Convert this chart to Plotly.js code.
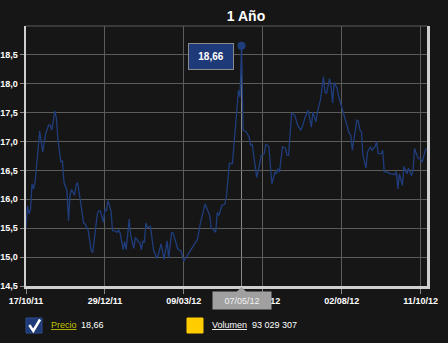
<!DOCTYPE html>
<html>
<head>
<meta charset="utf-8">
<script src="https://cdn.plot.ly/plotly-3.0.1.min.js"></script>
<style>
html,body{margin:0;padding:0;background:#161616;}
#chart{width:448px;height:343px;}
</style>
</head>
<body>
<div id="chart"></div>
<script>
// Trading-session index (x) and closing price (y)
const sesion = [0,1,2,3,4,5,6,7,9,11,13,15,16,17,19,20,21,23,24,25,27,28,29,30,32,33,34,35,38,39,41,43,
44,47,48,49,51,52,53,54,56,57,58,60,61,62,64,65,66,68,69,71,72,74,75,76,77,78,79,80,82,84,86,87,89,91,93,94,96,97,100,102,104,
113,115,118,121,122,125,126,127,129,130,131,132,134,136,139,140,141,142,143,145,147,148,149,150,152,154,155,157,158,160,161,162,164,165,166,167,169,171,172,173,
175,177,179,181,182,184,186,188,189,191,192,194,196,197,198,200,201,202,203,205,206,208,210,211,213,214,215,216,218,219,220,221,222,224,225,227,228,230,231,232,234,235,236,238,240,
243,244,245,246,248,249,251,252,254,255,256,258,259,260,261,263,264];
const precio = [15.51,15.89,15.75,15.83,16.27,16.18,16.30,16.64,17.18,16.82,17.14,17.29,17.28,17.20,17.53,17.41,17.05,16.64,16.67,16.30,16.15,15.63,16.07,16.17,16.07,16.25,16.29,16.12,15.59,15.57,15.46,15.11,
15.08,15.75,15.80,15.80,15.60,15.83,15.80,15.98,15.80,15.46,15.46,15.43,15.47,15.42,15.13,15.27,15.13,15.66,15.37,15.15,15.34,15.27,15.25,15.13,15.28,15.25,15.59,15.51,15.53,15.13,14.99,15.02,15.23,14.96,15.28,14.99,15.43,15.41,15.14,15.11,14.93,
15.31,15.60,15.92,15.72,15.51,15.43,15.77,15.72,15.89,15.91,15.92,16.04,16.62,16.62,17.60,17.89,17.77,18.66,17.20,17.17,17.08,16.93,16.96,16.76,16.38,16.62,16.76,16.79,16.96,16.91,16.50,16.27,16.47,16.44,16.53,16.47,16.91,16.88,16.76,16.76,
17.49,17.46,17.28,17.20,17.25,17.43,17.54,17.25,17.51,17.34,17.51,17.72,18.12,17.86,17.83,18.09,17.95,17.67,18.02,17.92,17.78,17.60,17.40,17.34,17.14,17.11,16.85,17.02,17.37,17.35,17.20,17.17,16.76,16.54,16.82,16.91,16.85,16.91,17.00,16.79,16.79,16.85,16.48,16.47,16.44,
16.43,16.48,16.18,16.44,16.24,16.57,16.44,16.54,16.41,16.50,16.88,16.73,16.70,16.70,16.64,16.85,16.88];
const tickSesion = [0,52,104,156,208,260];
const tickFechas = ["17/10/11","29/12/11","09/03/12","25/05/12","02/08/12","11/10/12"];
const yTicks = [14.5,15.0,15.5,16.0,16.5,17.0,17.5,18.0,18.5];
const fechaSeleccionada = "07/05/12";
const volumenTexto = "93 029 307";
const titulo = "1 Año";

const iMax = precio.indexOf(Math.max(...precio));
const xSel = sesion[iMax], ySel = precio[iMax];
const fmt = v => v.toFixed(2).replace('.', ',');

const lineColor = '#1f3d7c';
const F = 'Arial, "Liberation Sans", sans-serif';

const traces = [
  {x: sesion, y: precio, type: 'scatter', mode: 'lines', line: {color: lineColor, width: 1.3}, hoverinfo: 'skip'},
  {x: [xSel], y: [ySel], type: 'scatter', mode: 'markers', marker: {color: lineColor, size: 8}, hoverinfo: 'skip'}
];

// paper helpers for legend area
const L = 26, R = 427, T = 26, B = 286;
const px = p => (p - L) / (R - L);
const py = p => (B - p) / (B - T);

const layout = {
  width: 448, height: 343,
  margin: {l: 26, r: 21, t: 26, b: 57},
  paper_bgcolor: '#161616', plot_bgcolor: '#161616',
  separators: ', ',
  showlegend: false,
  font: {family: F, color: '#ffffff', size: 9},
  title: {text: titulo, font: {family: F, size: 14, color: '#ffffff', weight: 'bold'},
          x: 246/448, xanchor: 'center', xref: 'container', y: 1 - 16/343, yanchor: 'middle', yref: 'container'},
  xaxis: {
    range: [0, 264.2], tickmode: 'array', tickvals: tickSesion, ticktext: tickFechas,
    showgrid: true, gridcolor: '#5c5c5c', gridwidth: 1, zeroline: false,
    showline: true, linecolor: '#cfcfcf', linewidth: 2.5,
    ticks: 'outside', ticklen: 5, tickcolor: '#8a8a8a', tickwidth: 1,
    tickfont: {family: F, size: 9, color: '#ffffff', weight: 'bold'}, fixedrange: true
  },
  yaxis: {
    range: [14.5, 19.0], tickmode: 'array', tickvals: yTicks, tickformat: '.1f',
    showgrid: true, gridcolor: '#5c5c5c', gridwidth: 1, zeroline: false,
    showline: true, mirror: true, linecolor: '#cfcfcf', linewidth: 2.5,
    ticks: 'outside', ticklen: 4, tickcolor: '#8a8a8a', tickwidth: 1,
    tickfont: {family: F, size: 9, color: '#ffffff', weight: 'bold'}, fixedrange: true
  },
  shapes: [
    {type: 'line', xref: 'paper', yref: 'paper', x0: 0, x1: 1, y0: 1, y1: 1, line: {color: '#5c5c5c', width: 1}},
    {type: 'line', xref: 'x', yref: 'y', x0: xSel, x1: xSel, y0: 14.5, y1: ySel, line: {color: '#8a8a8a', width: 1}, layer: 'below'},
    // x hover label triangle
    {type: 'path', xref: 'x', yref: 'paper', xsizemode: 'pixel', ysizemode: 'pixel', xanchor: xSel, yanchor: 0,
     path: 'M -5,-6 L 5,-6 L 0,-1 Z', fillcolor: '#a0a0a0', line: {width: 0}},
    // legend boxes
    {type: 'rect', xref: 'paper', yref: 'paper', x0: px(26), x1: px(42), y0: py(333), y1: py(318), fillcolor: '#1e3a78', line: {color: '#2d4c8c', width: 1}},
    {type: 'path', xref: 'paper', yref: 'paper',
     path: `M ${px(29.3)},${py(325)} L ${px(33.3)},${py(331)} L ${px(40)},${py(319.5)}`, line: {color: '#ffffff', width: 2.5}},
    {type: 'rect', xref: 'paper', yref: 'paper', x0: px(187), x1: px(203), y0: py(333), y1: py(318), fillcolor: '#ffcc00', line: {color: '#ffcc00', width: 1}}
  ],
  annotations: [
    {x: xSel, y: ySel, xref: 'x', yref: 'y', text: '<b>' + fmt(ySel) + '</b>', showarrow: true, arrowcolor: 'rgba(0,0,0,0)', arrowwidth: 0.1,
     ax: -31, ay: 11, width: 42, height: 23, bgcolor: '#1e3a78', bordercolor: '#8a8a8a', borderwidth: 1, borderpad: 1,
     font: {family: F, size: 10, color: '#ffffff'}},
    {x: xSel, y: 0, xref: 'x', yref: 'paper', text: fechaSeleccionada, showarrow: false, xanchor: 'center', yanchor: 'top', yshift: -5,
     width: 54, height: 13, borderpad: 2, bgcolor: '#a0a0a0', font: {family: F, size: 9, color: '#f2f2f2'}},
    {x: px(49), y: py(324.5), xref: 'paper', yref: 'paper', xanchor: 'left', yanchor: 'middle', showarrow: false,
     text: '<u>Precio</u>', font: {family: F, size: 9, color: '#c2c200'}},
    {x: px(79), y: py(324.5), xref: 'paper', yref: 'paper', xanchor: 'left', yanchor: 'middle', showarrow: false,
     text: fmt(ySel), font: {family: F, size: 9, color: '#ffffff'}},
    {x: px(210), y: py(324.5), xref: 'paper', yref: 'paper', xanchor: 'left', yanchor: 'middle', showarrow: false,
     text: '<u>Volumen</u>', font: {family: F, size: 9, color: '#ffffff'}},
    {x: px(250), y: py(324.5), xref: 'paper', yref: 'paper', xanchor: 'left', yanchor: 'middle', showarrow: false,
     text: volumenTexto, font: {family: F, size: 9, color: '#ffffff'}}
  ]
};

Plotly.newPlot('chart', traces, layout, {staticPlot: true, displayModeBar: false});
</script>
</body>
</html>
